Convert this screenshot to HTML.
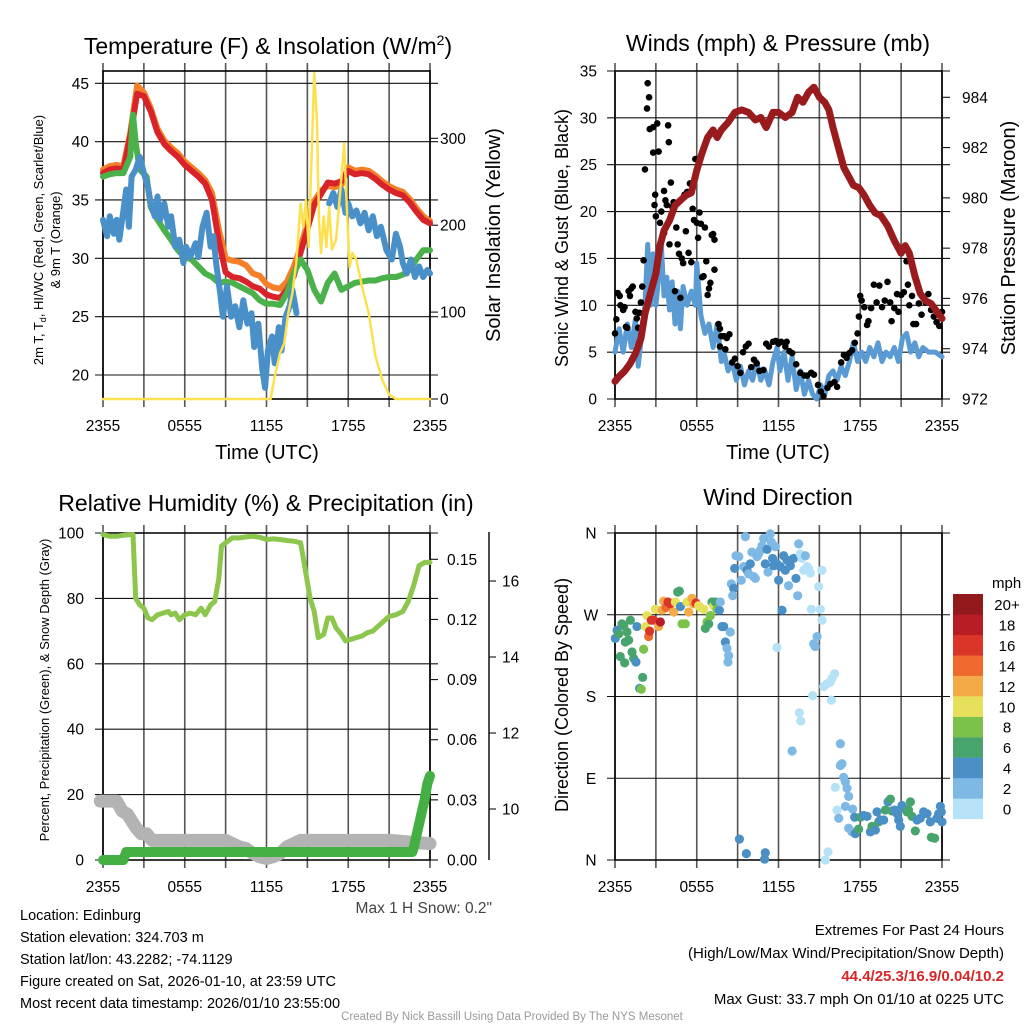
<!DOCTYPE html>
<html><head><meta charset="utf-8"><style>
body{margin:0;background:#fff}
svg{display:block;font-family:"Liberation Sans",sans-serif}
</style></head><body>
<svg id="fig" width="1024" height="1024" viewBox="0 0 1024 1024" xmlns="http://www.w3.org/2000/svg">
<rect width="1024" height="1024" fill="#fff"/>
<g id="g1"></g>
<g id="g2"></g>
<g id="g3"></g>
<g id="g4"></g>
<text x="268" y="54" font-size="23" text-anchor="middle">Temperature (F) &amp; Insolation (W/m<tspan font-size="14" dy="-9">2</tspan><tspan dy="9">)</tspan></text>
<text x="778" y="51" font-size="23" text-anchor="middle">Winds (mph) &amp; Pressure (mb)</text>
<text x="266" y="511" font-size="23" text-anchor="middle">Relative Humidity (%) &amp; Precipitation (in)</text>
<text x="778" y="505" font-size="23" text-anchor="middle">Wind Direction</text>
<text x="267" y="459" font-size="20" text-anchor="middle">Time (UTC)</text>
<text x="778" y="459" font-size="20" text-anchor="middle">Time (UTC)</text>
<text transform="translate(43,240) rotate(-90)" font-size="13" text-anchor="middle">2m T, T<tspan font-size="9" dy="3">d</tspan><tspan dy="-3">, HI/WC (Red, Green, Scarlet/Blue)</tspan></text>
<text transform="translate(60,240) rotate(-90)" font-size="13" text-anchor="middle">&amp; 9m T (Orange)</text>
<text transform="translate(500,235) rotate(-90)" font-size="20" text-anchor="middle">Solar Insolation (Yellow)</text>
<text transform="translate(568,238) rotate(-90)" font-size="18" text-anchor="middle">Sonic Wind &amp; Gust (Blue, Black)</text>
<text transform="translate(1015,238) rotate(-90)" font-size="20" text-anchor="middle">Station Pressure (Maroon)</text>
<text transform="translate(49,690) rotate(-90)" font-size="13" text-anchor="middle">Percent, Precipitation (Green), &amp; Snow Depth (Gray)</text>
<text transform="translate(568,695) rotate(-90)" font-size="18" text-anchor="middle">Direction (Colored By Speed)</text>
<text x="492" y="913" font-size="15.5" text-anchor="end" fill="#444">Max 1 H Snow: 0.2"</text>
<g font-size="14.5" fill="#000">
<text x="20" y="920">Location: Edinburg</text>
<text x="20" y="942">Station elevation: 324.703 m</text>
<text x="20" y="964">Station lat/lon: 43.2282; -74.1129</text>
<text x="20" y="986">Figure created on Sat, 2026-01-10, at 23:59 UTC</text>
<text x="20" y="1008">Most recent data timestamp: 2026/01/10 23:55:00</text>
</g>
<g font-size="15" text-anchor="end">
<text x="1004" y="935">Extremes For Past 24 Hours</text>
<text x="1004" y="958">(High/Low/Max Wind/Precipitation/Snow Depth)</text>
<text x="1004" y="981" fill="#d62728" font-weight="bold">44.4/25.3/16.9/0.04/10.2</text>
<text x="1004" y="1004">Max Gust: 33.7 mph On 01/10 at 0225 UTC</text>
</g>
<text x="512" y="1020" font-size="11.5" fill="#999" text-anchor="middle">Created By Nick Bassill Using Data Provided By The NYS Mesonet</text>
</svg>
<script>
// ---------- data ----------
const xTickLabels=["2355","0555","1155","1755","2355"];
const tempTicks=[20,25,30,35,40,45];
const solarTicks=[0,100,200,300];
const windTicks=[0,5,10,15,20,25,30,35];
const pressTicks=[972,974,976,978,980,982,984];
const rhTicks=[0,20,40,60,80,100];
const precipTicks=["0.00","0.03","0.06","0.09","0.12","0.15"];
const snowTicks=[10,12,14,16];
const dirLabels=["N","E","S","W","N"];
const speedBins=["0","2","4","6","8","10","12","14","16","18","20+"];

const tRed=[0,0.5,1,1.5,2,2.5,3,3.5,4,4.5,5,5.5,6,6.5,7,7.5,8,8.5,9,9.5,10,10.5,11,11.5,12,12.5,13,13.5,14,14.5,15,15.5,16,16.5,17,17.5,18,18.5,19,19.5,20,20.5,21,21.5,22,22.5,23,23.5,24];
const vRed=[37.3,37.6,37.7,37.6,40.5,44.1,43.9,42.6,40.8,39.8,39.2,38.7,38,37.5,37,36.4,35,31.5,28.8,28.4,28.3,28,27.6,27.4,26.9,26.7,26.6,27.3,28.5,30.5,32.5,34.6,35.5,36.5,36.4,36.6,37.5,37.2,37.3,37.2,36.8,36.3,35.9,35.6,35.4,34.8,34,33.3,33];
const tOrange=[0,0.5,1,1.5,2,2.5,3,3.5,4,4.5,5,5.5,6,6.5,7,7.5,8,8.5,9,9.5,10,10.5,11,11.5,12,12.5,13,13.5,14,14.5,15,15.5,16,16.5,17,17.5,18,18.5,19,19.5,20,20.5,21,21.5,22,22.5,23,23.5,24];
const vOrange=[37.6,37.9,38,37.9,40.8,44.8,44.2,42.9,41.1,40.1,39.5,39,38.3,37.8,37.3,36.7,35.6,32.5,30,29.8,29.7,29.4,28.7,28.5,27.8,27.5,27.4,28,29.3,31,33,34.9,35.8,36.2,36.1,36.3,37.8,37.5,37.6,37.5,37.1,36.6,36.2,35.9,35.7,35.1,34.3,33.6,33.2];
const tGreen=[0,0.5,1,1.5,2,2.2,2.4,2.7,3.2,3.5,4,4.5,5,5.5,6,6.5,7,7.5,8,8.5,9,9.5,10,10.5,11,11.5,12,12.5,13,13.5,14,14.5,15,15.5,16,16.5,17,17.5,18,18.5,19,19.5,20,20.5,21,21.5,22,22.5,23,23.5,24];
const vGreen=[37,37.2,37.3,37.3,38.7,42.3,39.9,37.6,37,34.4,33.3,32.4,31.6,30.7,30.1,29.9,29.3,28.7,28.4,27.9,28,27.9,27.6,27.3,27,26.4,26.1,26.1,26,27,28.7,29.9,29,27.3,26.3,27.9,28.7,27.3,27.6,27.9,28,28.1,28.1,28.3,28.4,28.4,28.6,29,29.9,30.7,30.7];
const tBlue=[0,0.3,0.5,0.8,1,1.2,1.5,1.7,1.9,2.1,2.4,2.7,3,3.3,3.5,3.8,4,4.2,4.5,4.8,5,5.3,5.6,5.9,6.1,6.4,6.8,7,7.3,7.6,7.9,8.1,8.3,8.6,8.8,9.1,9.4,9.7,10,10.3,10.6,10.9,11.1,11.4,11.7,11.9,12.1,12.4,12.6,12.9,13.1,13.4,13.7,13.9,14.2,15,16.6,16.9,17.2,17.5,17.8,18,18.3,18.6,18.9,19.2,19.5,19.8,20.1,20.4,20.8,21.2,21.5,21.8,22,22.3,22.6,22.9,23.2,23.5,23.8,24];
const vBlue=[33.3,31.9,33.6,32.1,33.3,31.6,34.1,35.9,32.7,37,37.6,38.7,37.3,36.1,34.7,33.6,35.3,33.3,34.7,32.7,33.6,31,31.6,29.6,31,30.1,31.3,30.1,32.7,33.9,31,31.9,29.6,27,25,27.6,25,25.9,24.1,26.4,24.4,25.3,22.4,24.4,20.4,18.9,22.1,23.3,21,24.1,22.1,25,25.9,27.3,25.3,null,34.7,35.6,34.4,35.9,33.9,34.7,33.6,34.1,33,33.9,32.4,33.6,31.9,32.7,30.7,29.9,32.1,31,29.6,28.7,29.9,28.4,29.3,28.4,29,28.7];
const tSolar=[0,12.3,12.6,13,13.3,13.6,13.9,14.2,14.5,14.7,14.9,15.1,15.3,15.5,15.7,15.85,16,16.2,16.4,16.6,16.8,17.1,17.4,17.7,17.9,18.1,18.3,18.6,19,19.5,20,20.5,21,21.5,24];
const vSolar=[0,0,26,53,64,99,122,160,225,198,229,175,275,375,321,206,168,210,175,221,172,183,237,294,218,152,168,160,130,99,49,22,5,0,0];

const tWind=[0,0.3,0.6,0.9,1.2,1.5,1.7,2,2.2,2.4,2.6,2.8,3,3.2,3.4,3.6,3.8,4,4.2,4.4,4.6,4.8,5,5.3,5.6,5.9,6,6.3,6.6,6.9,7.2,7.5,7.8,8,8.3,8.6,8.9,9.2,9.5,9.8,10.1,10.4,10.7,11,11.3,11.6,11.9,12.1,12.4,12.7,13,13.3,13.6,13.9,14.2,14.5,14.8,15.1,15.4,15.7,16,16.3,16.6,16.9,17.2,17.5,17.8,18.1,18.4,18.7,19,19.3,19.6,19.9,20.2,20.5,20.8,21.1,21.4,21.7,22,22.3,22.6,23,23.5,24];
const vWind=[5,7.5,5,8,5.5,8.5,3.5,7.5,10,16.5,10,15.5,10,13,16.5,11,13,9.5,12.5,8,11.5,7.5,12,10,11.5,10,14.5,9,7,8,5.5,8,4,5,3,4,2,3.5,1.5,3,2,4,2,3,1.5,4,5.5,3,5,2,4.5,1,3,0.5,2,0.5,0,1.5,0.5,2.5,3,2,3.5,2.5,4,6,4,5,4,5.5,4.5,6,4,5,4.5,5.5,4,6.5,7,5,6,4.5,5.5,5,5,4.5];
const tPress=[0,0.3,0.7,1.1,1.5,1.9,2.2,2.6,3,3.3,3.6,4,4.4,4.8,5.2,5.6,6,6.4,6.8,7.2,7.5,7.8,8.3,8.8,9.3,9.8,10.3,10.7,11.1,11.6,12,12.5,13,13.4,13.8,14.2,14.6,15,15.4,15.7,16,16.4,16.8,17.2,17.5,17.9,18.3,18.7,19.1,19.5,20,20.5,21,21.3,21.6,22,22.4,22.8,23.2,23.6,24];
const vPress=[972.7,972.9,973.1,973.4,973.8,974.4,975.4,976.2,977,978.1,978.7,979.1,979.7,979.9,980.1,980.2,981.1,981.8,982.4,982.7,982.4,982.7,983,983.4,983.5,983.4,983.1,983.2,982.8,983.4,983.4,983.2,983.4,984,983.8,984.2,984.4,984,983.8,983.5,982.8,982,981.2,980.8,980.5,980.4,980.1,979.7,979.4,979.3,978.9,978.3,977.8,978.1,977.8,976.9,976.2,975.9,975.8,975.5,975.2];
const tGust=[0,0.1,0.2,0.35,0.4,0.6,0.7,0.8,0.9,1,1.1,1.2,1.3,1.5,1.6,1.7,1.8,1.9,2,2.1,2.2,2.35,2.4,2.5,2.55,2.8,2.8,2.9,2.95,3.1,3.2,3,3.3,3.4,3.6,3.6,3.7,3.8,3.9,3.95,4,4.1,4.2,4.3,4.4,4.5,4.6,4.7,4.8,4.9,5,5.1,5.2,5.3,5.4,5.5,5.6,5.7,5.8,5.9,6,6.1,6.2,6.3,6.4,6.5,6.6,6.7,6.8,6.9,7,7.1,7.2,7.3,7.3,7.6,7.7,7.7,7.8,8,8.1,8.2,8.4,8.6,8.8,9,9.2,9.4,9.6,9.8,10,10.2,10.4,10.6,10.9,11.1,11.3,11.6,11.8,12,12.2,12.5,12.6,12.8,13,13.3,13.6,13.9,14.1,14.4,14.6,14.9,15.1,15.3,15.6,15.8,16.1,16.3,16.6,16.8,17,17.2,17.4,17.6,17.8,17.9,18,18.1,18.3,18.5,18.6,18.8,19,19.2,19.4,19.6,19.8,20,20.2,20.3,20.5,20.7,20.8,21,21.2,21.4,21.5,21.6,21.8,21.9,22.1,22.3,22.5,22.8,23,23.2,23.4,23.6,23.8,24];
const vGust=[7,8.5,11.3,11,10,9.5,9.8,7.7,7.6,11.5,11,11.8,12,9.3,8.6,7.6,9.2,10.3,12,14.8,24.5,31,33.7,32.2,28.8,26.3,29,20.7,21.8,29.4,26.4,19.5,18.8,20,22.2,17.7,21.2,20.7,29.2,27.4,16.5,23.1,20.5,21,11.5,18.3,16.5,15.5,10.8,15,14.5,21.8,17.9,22.1,15.6,23,14.6,20.3,19.1,25.6,18.8,17.2,19.9,18.7,13,13.1,18.3,14.7,11.1,11.8,12.4,17.5,17.6,17,13.8,8,7.5,5.6,6.7,6.7,5.3,6.5,6.9,3.9,4.3,3.5,2.8,5,5.6,5.9,3.4,4.2,3.8,3,3.1,5.9,5.6,6.1,6.2,5.9,6.1,5.6,6.1,5.1,4.9,3.7,2.8,2.5,2.5,2.8,2.6,1.5,0.8,0.3,1.2,1.6,1.8,1.3,3.9,4.7,4.4,4.9,5.2,6,7,8.8,11,10.5,9.8,7.9,8.3,9.7,12.2,10.3,12.1,9.8,10.5,12.5,10.3,8.3,9.7,11.2,9.3,11.1,11.4,14.7,12.2,10,11,8,8,10.2,9,10.3,11.2,9.5,8.8,8.2,7.8,9.3];

const tRH=[0,0.5,1,1.5,2,2.2,2.4,2.7,3,3.3,3.6,4,4.4,4.8,5,5.3,5.6,6,6.4,6.8,7.2,7.5,7.9,8.2,8.5,8.7,9,9.5,10,10.5,11,11.5,12,12.5,13,13.5,14,14.5,14.8,15.2,15.5,15.8,16.2,16.5,16.8,17.1,17.5,17.8,18.2,18.6,19,19.4,19.8,20.2,20.6,21,21.5,22,22.4,22.8,23.2,23.6,24];
const vRH=[99.5,99,99,99.3,99.5,99.5,80,78,77,74,73.5,75,75.5,76,75,75.5,73.5,75,75.5,75,77,75,78,79,86,96,97,98.5,98.5,98.8,99,98.7,98,98.2,98,97.7,97.5,97,90,80,76,68,69,74,74,71,69,67,67.5,68,68.5,69.5,70,71.5,73,74.5,75,76,79,84,90,91,91];
const tSnow=[-0.2,0.5,1,1.4,1.8,2.1,2.4,2.8,3.2,3.6,4,6,8,9,9.5,10,10.5,11,11.5,12,12.5,13,13.5,14,14.5,15,18,21,24];
const vSnow=[18,18,18,15,14,12,10,8,8,6,6,6,6,6,5,4,3.5,2,1,0.5,1,2,4,5,6,6,6,6,5];
const tPrecip=[0,1.5,1.7,5,10,15,20,22.7,22.8,23,23.2,23.4,23.6,23.8,24];
const vPrecip=[0,0,0.004,0.004,0.004,0.004,0.004,0.004,0.006,0.012,0.018,0.024,0.03,0.038,0.042];

const tDir=[0.02,0.15,0.27,0.51,0.64,0.88,1.0,1.13,0.76,0.39,0.71,1.25,1.37,1.54,1.61,1.81,1.93,2.03,2.1,2.23,2.35,2.47,2.54,2.67,2.84,2.96,3.2,3.33,3.45,3.57,3.74,3.89,4.06,4.31,4.43,4.6,4.72,4.8,4.92,5.16,5.28,5.41,5.65,5.77,5.94,6.14,6.26,6.51,6.63,6.75,6.88,7.0,7.12,7.24,7.36,7.48,7.66,7.73,7.85,7.98,8.1,8.22,8.34,8.46,8.29,8.54,8.71,8.64,8.78,8.88,9.08,9.27,9.44,9.57,9.69,9.81,9.93,10.05,10.18,10.3,10.42,10.54,10.67,10.79,10.91,11.03,11.16,11.23,11.4,11.47,11.57,11.65,11.77,11.89,12.01,12.13,12.26,12.38,12.5,12.62,12.74,12.87,13.11,13.28,13.41,13.48,13.6,13.72,13.85,13.97,14.09,14.21,14.34,14.41,14.51,14.58,14.7,14.83,14.95,15.07,15.19,15.19,15.32,15.56,15.8,15.93,16.12,15.88,13.53,13.63,13.0,11.89,16.54,16.54,16.66,16.78,16.91,17.03,17.15,16.17,16.29,16.91,17.44,16.42,17.15,17.39,17.64,17.59,17.88,18.01,18.25,18.5,18.74,18.86,19.11,19.23,19.35,19.47,19.72,19.84,20.04,20.21,20.33,20.53,20.7,20.82,20.94,21.06,21.19,21.43,21.55,21.68,21.8,22.04,22.17,22.41,22.65,22.9,23.14,23.22,23.46,23.63,23.76,23.88,24.0,23.95,9.13,9.64,11.03,10.98,15.44,15.63];
const vDir=[244,253,249,260,258,251,242,264,240,224,217,229,222,218,257,189,188,201,232,257,269,246,252,264,264,276,257,262,275,285,278,284,282,273,284,295,296,279,260,260,284,273,288,282,283,280,278,276,255,262,260,269,284,280,284,276,275,284,257,257,240,233,225,251,218,304,299,291,321,335,334,308,323,356,319,315,326,339,312,310,334,337,341,346,354,326,342,317,359,350,332,324,345,326,308,323,275,335,319,330,302,324,332,310,291,348,337,332,319,335,323,321,316,276,181,238,235,246,301,276,264,319,191,194,196,200,205,176,162,153,120,234,128,104,106,91,86,79,70,80,55,59,56,46,35,31,29,47,34,47,49,48,31,37,33,53,42,44,44,55,64,67,54,55,51,44,37,60,57,53,55,64,48,32,44,46,53,51,42,25,24,46,51,59,42,53,23,7,8,1,0,9];
const sDir=[4,4,6,6,6,6,6,6,6,6,6,6,6,4,4,4,8,6,8,10,10,14,16,16,16,10,12,18,12,12,14,16,16,12,10,6,6,4,8,8,10,12,12,12,16,10,10,10,6,8,6,8,6,10,6,8,4,2,4,4,4,2,2,2,2,2,4,2,4,2,2,2,2,2,4,2,4,2,2,2,2,2,2,2,2,4,4,2,2,2,4,4,2,4,4,4,4,4,4,4,2,4,4,4,2,2,0,0,0,2,0,0,0,0,0,2,2,2,0,0,0,0,0,0,0,0,0,0,0,0,2,0,2,2,2,2,2,2,2,0,0,2,2,2,2,2,4,4,6,6,4,4,4,6,4,4,6,4,4,6,4,6,6,4,4,4,4,4,4,6,6,6,6,6,4,4,4,4,4,6,6,4,4,4,4,4,4,4,4,4,0,0,2,2,0,0];
const binColors=["#b5e2f6","#7db9e4","#4a8fc6","#47a46c","#7bc24a","#e6e05a","#f5aa48","#ef6a2e","#db3429","#b81d23","#921a1c"];

// ---------- helpers ----------
const NS="http://www.w3.org/2000/svg";
function el(parent,tag,attrs,txt){const e=document.createElementNS(NS,tag);for(const k in attrs)e.setAttribute(k,attrs[k]);if(txt!==undefined)e.textContent=txt;parent.appendChild(e);return e;}
function lin(v0,p0,v1,p1){return v=>p0+(v-v0)*(p1-p0)/(v1-v0);}
function xs(P){return t=>P.x0+(P.x1-P.x0)*t/24;}
function pathD(ts,vs,fx,fy){let d="",pen=false;for(let i=0;i<ts.length;i++){if(vs[i]===null){pen=false;continue;}d+=(pen?"L":"M")+fx(ts[i]).toFixed(1)+" "+fy(vs[i]).toFixed(1);pen=true;}return d;}
function frame(g,P){
  for(let i=0;i<=8;i++){const x=P.x0+(P.x1-P.x0)*i/8;
    const l=el(g,"line",{x1:x,x2:x,y1:P.y0-8,y2:P.y1+8,stroke:"#555","stroke-width":1.6});
    
    }
  for(let i=0;i<xTickLabels.length;i++){const x=P.x0+(P.x1-P.x0)*i/4;
    const t=el(g,"text",{x:x,y:P.y1+32,"font-size":15.5,"text-anchor":"middle"},xTickLabels[i]);
    
    }
  const r=el(g,"rect",{x:P.x0,y:P.y0,width:P.x1-P.x0,height:P.y1-P.y0,fill:"none",stroke:"#000","stroke-width":1.6});
  
  
}
function hgrid(g,P,ticks,fy,labels,lx,anchor){
  ticks.forEach((v,i)=>{const y=fy(v);
    const l=el(g,"line",{x1:P.x0-8,x2:P.x1+8,y1:y,y2:y,stroke:"#111","stroke-width":1.1});
    
    
    const t=el(g,"text",{x:lx,y:y+5.5,"font-size":15.5,"text-anchor":anchor},labels?labels[i]:v);
    
    });
}
function rticks(g,P,ticks,fy,labels,lx){
  ticks.forEach((v,i)=>{const y=fy(v);
    const l=el(g,"line",{x1:P.x1,x2:P.x1+8,y1:y,y2:y,stroke:"#111","stroke-width":1.1});
    
    
    const t=el(g,"text",{x:lx,y:y+5.5,"font-size":15.5},labels?labels[i]:v);
    
    });
}
function series(g,ts,vs,fx,fy,color,w,name){
  const p=el(g,"path",{d:pathD(ts,vs,fx,fy),fill:"none",stroke:color,"stroke-width":w,"stroke-linejoin":"round","stroke-linecap":"round"});
  
  
}

// ---------- panel 1 ----------
const P1={x0:103,x1:430,y0:71,y1:399};
const g1=document.getElementById("g1");
const x1s=xs(P1), yT=lin(20,375,45,83.3), yS=lin(0,399,300,138.3);
frame(g1,P1);
hgrid(g1,P1,tempTicks,yT,null,89,"end");
rticks(g1,P1,solarTicks,yS,null,440);
series(g1,tOrange,vOrange,x1s,yT,"#f4812a",6,"temp-9m-orange");
series(g1,tRed,vRed,x1s,yT,"#d9232a",6,"temp-2m-red");
series(g1,tGreen,vGreen,x1s,yT,"#4bb14b",6,"dewpoint-green");
series(g1,tBlue,vBlue,x1s,yT,"#4a90c8",6,"windchill-blue");
series(g1,tSolar,vSolar,x1s,yS,"#fbe14f",2.5,"solar-yellow");

// ---------- panel 2 ----------
const P2={x0:615,x1:942,y0:71,y1:399};
const g2=document.getElementById("g2");
const x2s=xs(P2), yW=lin(0,399,35,71), yP=lin(972,399,984,97.3);
frame(g2,P2);
hgrid(g2,P2,windTicks,yW,null,597,"end");
rticks(g2,P2,pressTicks,yP,null,962);
series(g2,tWind,vWind,x2s,yW,"#5a9bd4",5,"sonic-wind-blue");
tGust.forEach((t,i)=>{
  const c=el(g2,"circle",{cx:x2s(t),cy:yW(vGust[i]),r:3.3,fill:"#000"});
  
  
});
series(g2,tPress,vPress,x2s,yP,"#9a1b1e",7,"pressure-maroon");

// ---------- panel 3 ----------
const P3={x0:103,x1:430,y0:533,y1:860};
const g3=document.getElementById("g3");
const x3s=xs(P3), yR=lin(0,860,100,533), yPr=lin(0,860,0.15,559.3), ySn=lin(10,809,16,581);
frame(g3,P3);
hgrid(g3,P3,rhTicks,yR,null,84,"end");
rticks(g3,P3,precipTicks.map(Number),yPr,precipTicks,447);
const sa=el(g3,"line",{x1:489,x2:489,y1:532,y2:860,stroke:"#111","stroke-width":1.5});


snowTicks.forEach(v=>{const y=ySn(v);
  const l=el(g3,"line",{x1:489,x2:496,y1:y,y2:y,stroke:"#111","stroke-width":1.1});
  
  
  const t=el(g3,"text",{x:502,y:y+5.5,"font-size":15.5},v);
  
  });
series(g3,tSnow,vSnow,x3s,yR,"#b3b3b3",13,"snow-depth-gray");
series(g3,tPrecip,vPrecip,x3s,yPr,"#44b044",10,"precip-green");
series(g3,tRH,vRH,x3s,yR,"#8cc64c",5,"rh-green");

// ---------- panel 4 ----------
const P4={x0:615,x1:942,y0:533,y1:860};
const g4=document.getElementById("g4");
const x4s=xs(P4), yD=lin(0,860,360,533);
frame(g4,P4);
hgrid(g4,P4,[0,90,180,270,360],yD,dirLabels,591,"middle");
tDir.forEach((t,i)=>{
  const b=Math.min(10,Math.floor(sDir[i]/2));
  const c=el(g4,"circle",{cx:x4s(t),cy:yD(vDir[i]),r:4.6,fill:binColors[b]});
  
  
});
const cb=el(g4,"g",{});


const mph=el(cb,"text",{x:992,y:588,"font-size":15},"mph");


for(let i=0;i<speedBins.length;i++){
  const y=594+(10-i)*20.45;
  const r=el(cb,"rect",{x:953,y:y,width:30,height:20.6,fill:binColors[i]});
  
  
  const t=el(cb,"text",{x:1007,y:y+16,"font-size":15,"text-anchor":"middle"},speedBins[i]);
  
  
}
</script>
</body></html>
